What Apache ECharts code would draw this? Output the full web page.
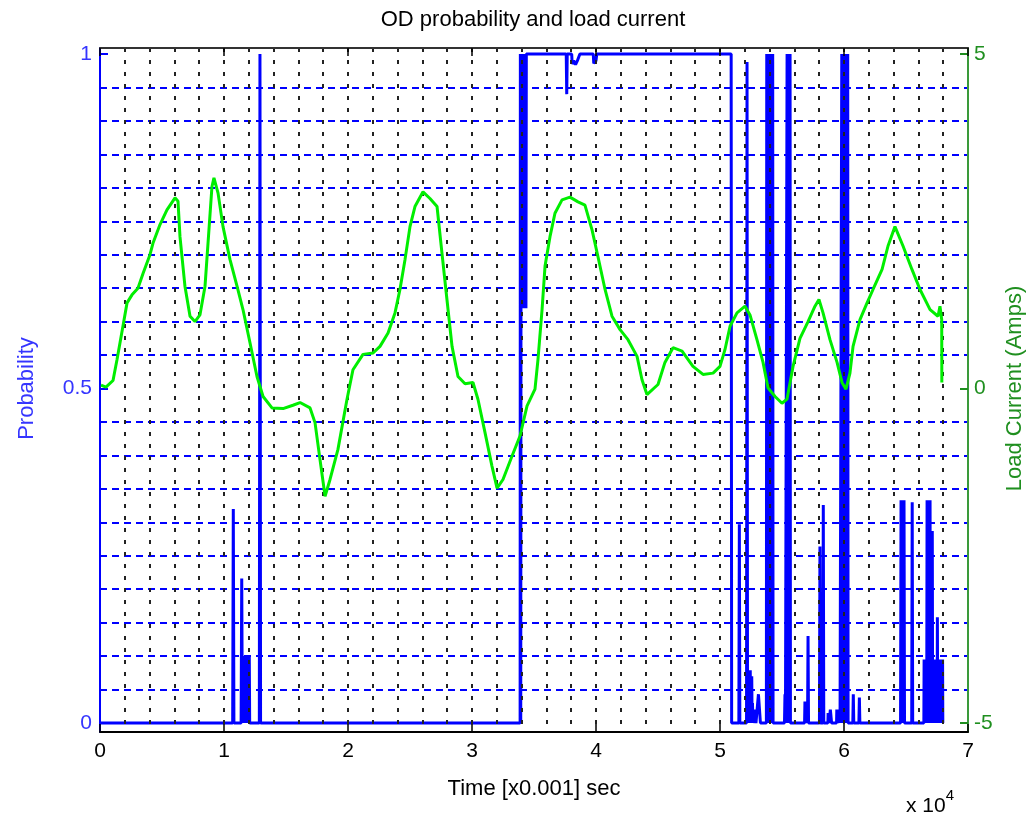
<!DOCTYPE html>
<html><head><meta charset="utf-8">
<script src="https://cdn.jsdelivr.net/npm/echarts@6/dist/echarts.min.js"></script>
<style>html,body{margin:0;padding:0;background:#fff}#c{width:1035px;height:818px}</style>
</head><body><div id="c"></div>
<script>
const titleText = 'OD probability and load current';
const xAxisTitle = 'Time [x0.001] sec';
const leftAxisTitle = 'Probability';
const rightAxisTitle = 'Load Current (Amps)';
const xTickLabels = ['0','1','2','3','4','5','6','7'];
const leftTickLabels = ['0','0.5','1'];
const rightTickLabels = ['-5','0','5'];

// OD probability: [time, probability]
const probability = [
 [0,0],[10700,0],[10750,0.32],[10800,0],
 [11380,0],[11430,0.216],[11480,0],
 [11540,0],[11560,0.1],[11590,0],[11620,0.09],[11650,0],[11680,0.1],[11710,0],[11740,0.1],[11770,0],[11800,0.08],
 [11830,0],[11860,0.1],[11890,0],[11920,0.1],[11950,0],[11980,0.07],[12010,0],[12040,0.1],[12070,0],
 [12850,0],[12900,1],[12950,0],
 [33880,0],[33900,1],[33930,0],[33960,1],[33990,0.62],[34020,1],[34050,0.62],[34080,1],[34110,0.62],[34140,1],
 [34170,0.62],[34200,1],[34230,0.62],[34260,1],[34290,0.62],[34320,1],[34350,0.62],[34380,1],
 [37600,1],[37640,0.94],[37680,1],
 [38040,1],[38080,0.985],[38200,0.99],[38350,0.984],[38500,0.99],[38700,1],
 [39780,1],[39820,0.986],[40000,0.99],[40060,1],
 [50900,1],[50940,0],
 [51520,0],[51560,0.297],[51600,0],
 [52140,0],[52180,0.988],[52220,0],
 [52240,0],[52260,0.079],[52290,0],[52320,0.079],[52350,0],[52380,0.06],[52410,0],[52440,0.079],[52470,0],
 [52500,0.05],[52530,0],[52560,0.07],[52590,0],[52620,0.03],[52650,0],[52680,0.02],[52710,0],
 [52820,0],[52860,0.02],[52900,0],
 [53050,0],[53100,0.043],[53230,0.043],[53260,0],
 [53740,0],[53770,1],[53800,0],[53830,1],[53860,0],[53890,1],[53920,0],[53950,1],[53980,0],[54010,1],
 [54040,0],[54070,1],[54100,0],[54130,1],[54160,0],[54190,1],[54220,0],[54250,1],[54280,0],
 [55200,0],[55240,0.043],[55280,0],
 [55380,0],[55410,1],[55440,0],[55470,1],[55500,0],[55530,1],[55560,0],[55590,1],[55620,0],[55650,1],[55680,0],
 [56820,0],[56850,0.032],[57000,0.032],[57060,0],[57100,0.13],[57140,0],
 [58020,0],[58060,0.264],[58100,0],
 [58290,0],[58330,0.326],[58370,0],
 [58700,0],[58720,0.015],[58800,0],[58900,0.02],[59000,0],
 [59400,0],[59420,0.02],[59500,0],[59600,0.02],[59680,0],
 [59790,0],[59820,1],[59850,0],[59880,1],[59910,0],[59940,1],[59970,0],[60000,1],[60030,0],[60060,1],
 [60090,0],[60120,1],[60150,0],[60180,1],[60210,0],[60240,1],[60270,0],[60300,1],[60330,0],
 [60710,0],[60750,0.043],[60790,0],
 [61200,0],[61240,0.038],[61280,0],
 [64560,0],[64600,0.333],[64640,0],
 [64800,0],[64840,0.333],[64880,0],
 [65460,0],[65500,0.33],[65540,0],
 [66440,0],[66460,0.095],[66490,0],[66520,0.095],[66550,0],[66580,0.095],[66610,0],[66640,0.095],[66670,0],
 [66700,0.333],[66730,0],[66760,0.095],[66790,0],[66820,0.095],[66850,0],[66880,0.095],[66910,0],[66940,0.333],
 [66970,0],[67000,0.095],[67030,0],[67060,0.095],[67090,0],[67120,0.287],[67150,0],[67180,0.095],[67210,0],
 [67240,0.095],[67270,0],[67300,0.095],[67330,0],[67360,0.095],[67390,0],[67420,0.095],[67450,0],[67480,0.095],
 [67510,0],[67530,0.158],[67560,0],[67590,0.095],[67620,0],[67650,0.095],[67680,0],[67710,0.095],[67740,0],
 [67770,0.095],[67800,0],[67830,0.095],[67860,0],[67890,0.095],[67920,0],[67950,0.095],[67970,0]
];

// Load current (Amps): [time, current]
const loadCurrent = [
 [80,0.05],[480,0.02],[1050,0.12],[1370,0.43],[1850,0.93],[2180,1.28],[2580,1.4],[3060,1.5],[3470,1.72],
 [4030,2.0],[4270,2.17],[4840,2.45],[5400,2.67],[6050,2.85],[6290,2.8],[6450,2.27],[6850,1.53],[7260,1.08],
 [7660,1.0],[8060,1.1],[8470,1.53],[8710,2.17],[9030,3.02],[9190,3.15],[9520,2.92],[9920,2.42],[10480,1.93],
 [11050,1.53],[11530,1.18],[12100,0.68],[12660,0.18],[13150,-0.12],[13870,-0.29],[14760,-0.3],[15560,-0.25],
 [16130,-0.21],[16940,-0.29],[17340,-0.51],[17740,-1.06],[18150,-1.61],[18550,-1.36],[19190,-0.91],[19920,-0.16],
 [20400,0.28],[21210,0.51],[22020,0.53],[22580,0.63],[23230,0.83],[23790,1.13],[24190,1.48],[24600,1.93],
 [25000,2.42],[25400,2.72],[26050,2.94],[26610,2.84],[27180,2.72],[27580,2.02],[27980,1.33],[28390,0.63],
 [28870,0.18],[29440,0.07],[30080,0.09],[30480,-0.16],[31050,-0.66],[31610,-1.16],[32020,-1.49],[32500,-1.36],
 [33230,-1.01],[33870,-0.71],[34440,-0.26],[35080,-0.01],[35320,0.43],[35650,1.18],[35890,1.83],[36290,2.27],
 [36690,2.62],[37260,2.82],[37900,2.86],[38550,2.79],[39110,2.74],[39680,2.37],[40160,1.97],[40730,1.48],
 [41290,1.08],[41940,0.88],[42580,0.73],[43310,0.48],[43710,0.13],[44110,-0.09],[45000,0.06],[45560,0.39],
 [46210,0.61],[46940,0.56],[47820,0.33],[48630,0.21],[49440,0.23],[50000,0.33],[50400,0.58],[50810,0.93],
 [51370,1.13],[52020,1.23],[52420,1.1],[52980,0.73],[53470,0.39],[53870,0.01],[54440,-0.12],[55000,-0.22],
 [55400,-0.16],[55890,0.33],[56450,0.75],[57100,1.0],[57660,1.23],[57980,1.33],[58310,1.13],[58870,0.73],
 [59440,0.39],[59840,0.09],[60160,-0.01],[60480,0.23],[60730,0.63],[61290,1.03],[61860,1.28],[62340,1.48],
 [63070,1.78],[63550,2.13],[64110,2.42],[64760,2.13],[65480,1.78],[66130,1.48],[66940,1.18],[67580,1.08],
 [67740,1.23],[67880,1.03],[67890,0.09]
];

const FONT = 'Arial, "Liberation Sans", sans-serif';
const BLUE = '#0000ff';
const GREEN = '#00ee00';
const DKGREEN = '#1f8f1f';

const chart = echarts.init(document.getElementById('c'), null, {renderer: 'canvas'});
const option = {
  animation: false,
  backgroundColor: '#fff',
  textStyle: {fontFamily: FONT},
  title: {
    text: titleText, left: 528, top: 4, textAlign: 'center',
    textStyle: {fontSize: 22, fontWeight: 'normal', color: '#000', fontFamily: FONT}
  },
  graphic: [{
    type: 'text', left: 906, top: 788,
    style: {
      text: '{a|x 10}{b|4}',
      rich: {
        a: {fontSize: 21, fontFamily: FONT, fill: '#000', padding: [8, 0, 0, 0]},
        b: {fontSize: 15, fontFamily: FONT, fill: '#000', verticalAlign: 'top'}
      }
    }
  }],
  grid: [
    {left: 100, right: 67, top: 48, bottom: 86},
    {left: 100, right: 67, top: 54, bottom: 95}
  ],
  xAxis: [
    {
      type: 'value', gridIndex: 0, min: 0, max: 70000, interval: 10000, z: 3,
      axisLine: {show: true, onZero: false, lineStyle: {color: '#000', width: 2}},
      axisTick: {show: true, inside: true, length: 8, lineStyle: {color: '#000', width: 1.5}},
      axisLabel: {show: true, color: '#000', fontSize: 21, margin: 9, fontFamily: FONT,
        formatter: (v, i) => xTickLabels[i]},
      splitLine: {show: true, lineStyle: {color: '#222', width: 2, type: [4, 8]}},
      minorTick: {show: false, splitNumber: 5},
      minorSplitLine: {show: true, lineStyle: {color: '#222', width: 2, type: [4, 8]}},
      name: xAxisTitle, nameLocation: 'middle', nameGap: 46,
      nameTextStyle: {fontSize: 22, color: '#000', fontFamily: FONT}
    },
    {
      type: 'value', gridIndex: 0, position: 'top', min: 0, max: 70000, interval: 10000, z: 3,
      axisLine: {show: true, onZero: false, lineStyle: {color: '#333', width: 2}},
      axisTick: {show: true, inside: true, length: 8, lineStyle: {color: '#000', width: 1.5}},
      axisLabel: {show: false}, splitLine: {show: false}
    },
    {
      type: 'value', gridIndex: 1, min: 0, max: 70000, show: false
    }
  ],
  yAxis: [
    {
      type: 'value', gridIndex: 0, position: 'left', min: 0, max: 1, z: 3,
      axisLine: {show: true, onZero: false, lineStyle: {color: BLUE, width: 2}},
      axisTick: {show: false}, axisLabel: {show: false}, splitLine: {show: false}
    },
    {
      type: 'value', gridIndex: 0, position: 'right', min: 0, max: 1, z: 3,
      axisLine: {show: true, onZero: false, lineStyle: {color: '#3a9a3a', width: 2}},
      axisTick: {show: false}, axisLabel: {show: false}, splitLine: {show: false}
    },
    {
      type: 'value', gridIndex: 1, position: 'left', min: 0, max: 1, interval: 0.5, z: 3,
      axisLine: {show: false},
      axisTick: {show: true, inside: true, length: 8, lineStyle: {color: BLUE, width: 2}},
      axisLabel: {show: true, color: '#3535ff', fontSize: 21, margin: 8, fontFamily: FONT,
        formatter: (v, i) => leftTickLabels[i]},
      splitLine: {show: false},
      minorTick: {show: false, splitNumber: 10},
      minorSplitLine: {show: true, lineStyle: {color: BLUE, width: 2, type: [7, 5]}},
      name: leftAxisTitle, nameLocation: 'middle', nameGap: 62, nameRotate: 90,
      nameTextStyle: {fontSize: 22, color: '#3535ff', fontFamily: FONT}
    },
    {
      type: 'value', gridIndex: 1, position: 'right', min: -5, max: 5, interval: 5, z: 3,
      axisLine: {show: false},
      axisTick: {show: true, inside: true, length: 8, lineStyle: {color: DKGREEN, width: 2}},
      axisLabel: {show: true, color: DKGREEN, fontSize: 21, margin: 6, fontFamily: FONT,
        formatter: (v, i) => rightTickLabels[i]},
      splitLine: {show: false},
      name: rightAxisTitle, nameLocation: 'middle', nameGap: 36, nameRotate: 90,
      nameTextStyle: {fontSize: 22, color: DKGREEN, fontFamily: FONT}
    }
  ],
  series: [
    {
      name: 'OD probability', type: 'line', xAxisIndex: 2, yAxisIndex: 2, data: probability,
      showSymbol: false, symbol: 'none', clip: false, z: 2,
      lineStyle: {color: BLUE, width: 3}
    },
    {
      name: 'Load current', type: 'line', xAxisIndex: 2, yAxisIndex: 3, data: loadCurrent,
      showSymbol: false, symbol: 'none', clip: false, z: 5,
      lineStyle: {color: GREEN, width: 3}
    }
  ]
};
chart.setOption(option);
</script>
</body></html>
